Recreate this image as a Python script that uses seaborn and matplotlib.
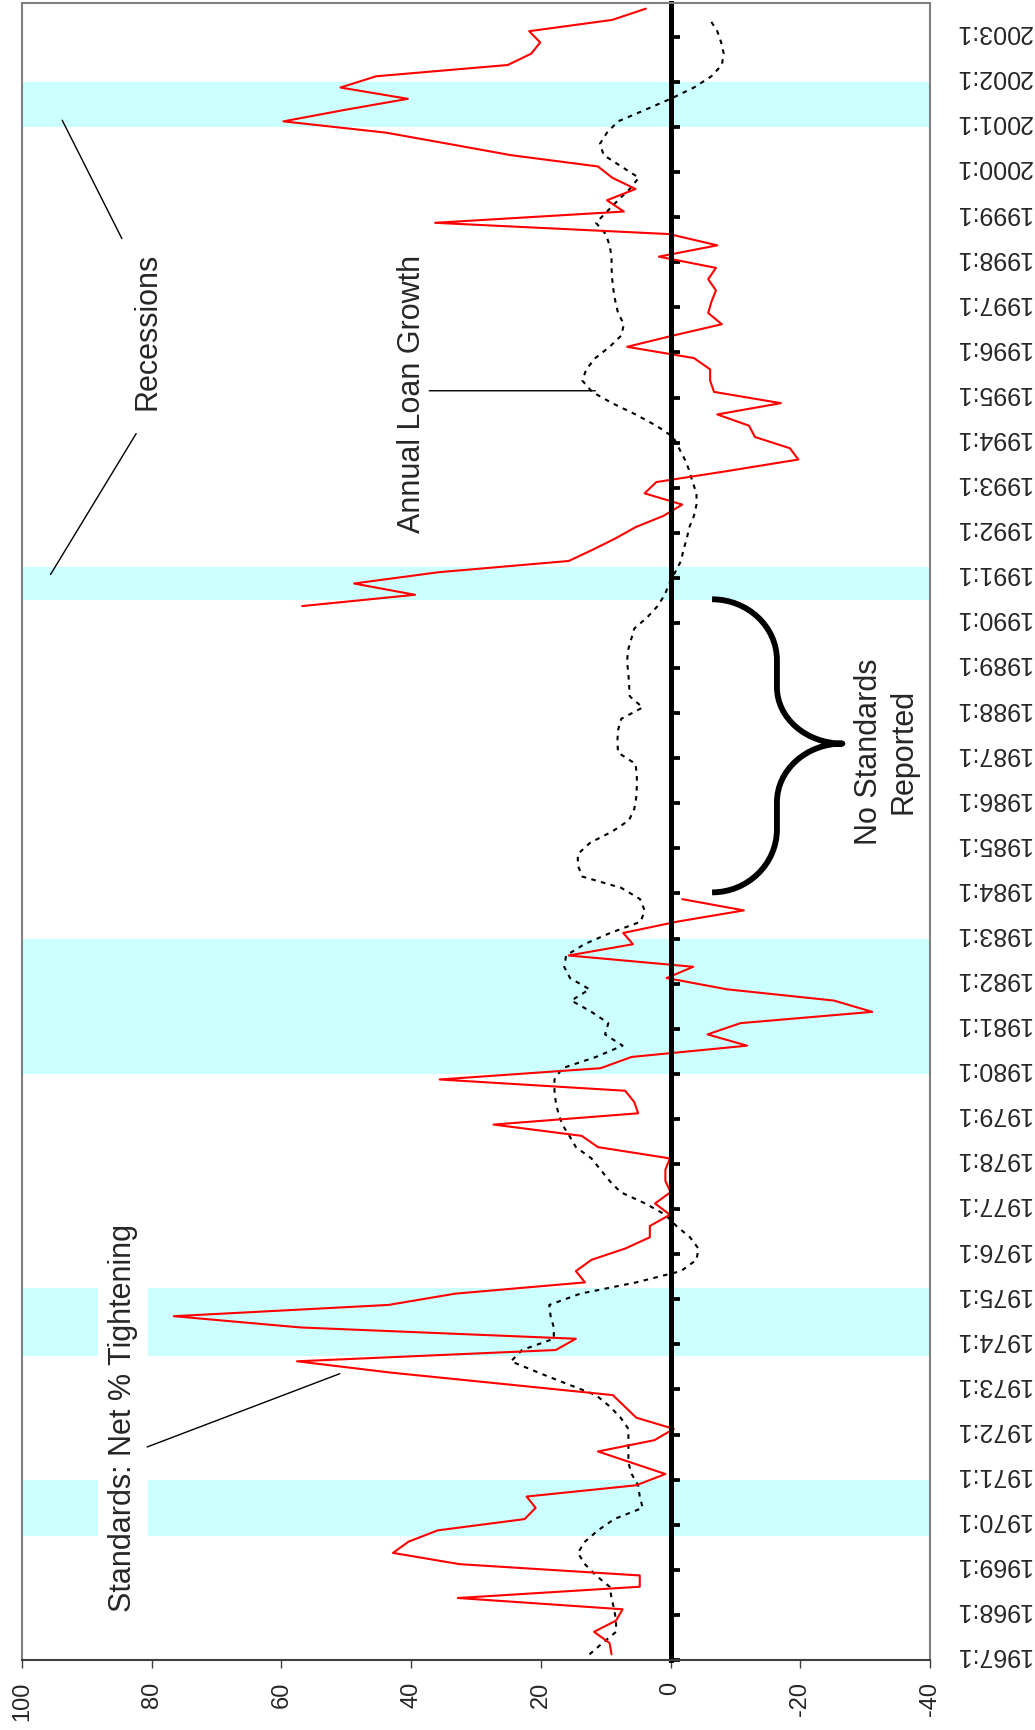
import numpy as np
import pandas as pd
import matplotlib
matplotlib.use('Agg')
import matplotlib.pyplot as plt
import seaborn as sns
from matplotlib.ticker import FixedLocator, FixedFormatter, NullFormatter
from matplotlib.path import Path
from matplotlib.patches import PathPatch

# ── Data (quarterly, 1967:1 = category 0) ─────
years = list(range(1967, 2004))
year_labels = [f"{y}:1" for y in years]

# Standards: net % tightening, 1967:1-1983:4
standards_a = [9.1, 9.4, 11.8, 8.4, 7.4, 32.8, 4.75, 4.75, 32.5, 42.8,
               40.4, 35.9, 22.5, 20.8, 22.2, 5.3, 0.8, 6.0, 11.2, 2.5,
               -0.5, 5.3, 7.1, 8.9, 26.0, 43.2, 57.6, 17.7, 14.6, 57.0,
               76.6, 43.5, 33.2, 13.2, 14.6, 12.2, 7.0, 3.2, 3.2, 0.1,
               2.4, 0.0, 0.8, 0.8, 0.1, 11.2, 13.7, 27.3, 5.0, 5.6,
               7.0, 35.6, 10.8, 6.0, -11.8, -5.7, -10.8, -31.1, -25.2, -8.7,
               0.6, -3.5, 15.7, 5.8, 7.3, -1.0, -11.3, -1.8]
standards_a_start = 0
# Standards: net % tightening, 1990:2-2003:3
standards_b = [56.8, 39.4, 48.8, 35.8, 15.7, 12.0, 8.5,
               5.4, 1.1, -1.8, 4.0, 2.2, -9.0, -19.7, -18.4, -13.0, -12.1,
               -7.2, -17.0, -6.7, -6.1, -6.1, -3.6, 6.7, -0.4, -7.9, -5.8,
               -6.3, -7.0, -5.8, -7.0, 1.8, -7.2, 0.2, 36.3, 7.2, 9.8,
               5.4, 9.0, 11.2, 24.6, 34.2, 43.9, 59.7, 50.4, 40.5, 50.9,
               45.4, 25.1, 21.5, 20.1, 21.8, 9.0, 3.8]
standards_b_start = 93

# Annual loan growth, 1967:1-2003:2
loan_growth = [12.5, 10.5, 8.4, 8.4, 8.7, 9.1, 9.4, 11.5, 13.2, 14.3,
               13.2, 11.2, 8.7, 4.3, 4.75, 5.0, 6.0, 6.5, 6.5, 6.5,
               6.5, 7.7, 9.4, 11.5, 16.0, 20.4, 24.6, 22.9, 18.0, 18.0,
               18.5, 18.7, 13.9, 5.3, -1.6, -4.0, -4.3, -3.0, -0.9, 0.8,
               3.9, 7.7, 9.4, 10.8, 12.2, 14.6, 15.6, 16.7, 17.3, 17.7,
               17.9, 17.9, 16.7, 11.5, 7.4, 10.1, 9.6, 12.2, 15.3, 12.5,
               15.5, 16.4, 16.1, 13.3, 9.3, 4.6, 4.0, 4.7, 7.6, 13.6,
               14.3, 14.3, 12.4, 9.0, 6.4, 5.6, 5.3, 5.2, 5.2, 5.4,
               8.1, 8.2, 8.1, 7.6, 4.3, 6.3, 6.4, 6.5, 6.7, 6.6,
               6.1, 5.6, 3.6, 2.0, 0.9, 0.2, -0.7, -1.6, -2.0, -2.5,
               -2.9, -3.6, -4.0, -4.0, -3.4, -2.9, -2.2, -1.3, -0.4, 2.2,
               5.4, 9.0, 12.1, 13.6, 13.0, 11.6, 9.4, 7.6, 7.2, 8.1,
               8.5, 8.8, 9.0, 9.1, 9.1, 9.4, 10.0, 11.5, 9.8, 8.1,
               6.3, 4.9, 7.6, 10.3, 10.9, 9.8, 8.1, 4.0, 0.0, -3.6,
               -6.3, -7.9, -8.2, -7.8, -7.2, -6.1]

# Recessions (category start / end)
rec_start = [11, 27, 52, 94, 136]
rec_end = [16, 33, 64, 97, 140]

value_ticks = [100, 80, 60, 40, 20, 0, -20, -40]
value_tick_labels = ['100', '80', '60', '40', '20', '0', '-20', '-40']
n_categories = 147

# ── Frames (points sit in the middle of each quarter) ──
red_df = pd.DataFrame({
    'pos': np.concatenate([np.arange(len(standards_a)) + standards_a_start,
                           np.arange(len(standards_b)) + standards_b_start]) + 0.5,
    'value': standards_a + standards_b,
    'segment': [0] * len(standards_a) + [1] * len(standards_b),
})
loan_df = pd.DataFrame({
    'pos': np.arange(len(loan_growth)) + 0.5,
    'value': loan_growth,
})

sns.set_style('white')
plt.rcParams['font.family'] = ['Liberation Sans', 'DejaVu Sans']
plt.rcParams['axes.unicode_minus'] = False

fig = plt.figure(figsize=(10.35, 17.31), dpi=100)
ax = fig.add_axes([22 / 1035, 70 / 1731, 908 / 1035, 1657 / 1731])

# recession bands
for s, e in zip(rec_start, rec_end):
    ax.axhspan(s, e, color='#CCFFFF', lw=0, zorder=0)

sns.lineplot(data=loan_df, x='value', y='pos', orient='y', sort=True,
             color='black', lw=1.5, linestyle=(0, (2.2, 2.6)),
             legend=False, ax=ax)
sns.lineplot(data=red_df, x='value', y='pos', units='segment',
             estimator=None, orient='y', sort=True,
             color='red', lw=1.5, legend=False, ax=ax)

ax.set_xlim(100, -40)
ax.set_ylim(0, n_categories)
ax.set_xlabel('')
ax.set_ylabel('')
ax.grid(False)

# value axis (bottom)
ax.set_xticks(value_ticks)
ax.set_xticklabels(value_tick_labels, rotation=90, fontsize=17)
ax.tick_params(axis='x', direction='out', length=6, width=1,
               color='#404040', pad=9, bottom=True)

# category axis drawn at zero
ax.spines['left'].set_position(('data', 0))
ax.spines['left'].set_color('black')
ax.spines['left'].set_linewidth(3.6)
ax.yaxis.set_major_locator(FixedLocator(list(range(0, n_categories + 1, 4))))
ax.yaxis.set_major_formatter(NullFormatter())
ax.yaxis.set_minor_locator(FixedLocator([4 * i + 0.5 for i in range(len(years))]))
ax.yaxis.set_minor_formatter(FixedFormatter(year_labels))
ax.tick_params(axis='y', which='major', direction='in', length=6.2, width=2.7,
               color='black', left=True, right=False,
               labelleft=False, labelright=False)
ax.tick_params(axis='y', which='minor', left=False, right=False,
               labelleft=False, labelright=True, labelsize=18,
               labelrotation=180, pad=16)
for lbl in ax.get_yticklabels(minor=True):
    lbl.set_va('center')

for side in ['top', 'right']:
    ax.spines[side].set_color('#808080')
    ax.spines[side].set_linewidth(1.5)
ax.spines['bottom'].set_color('#404040')
ax.spines['bottom'].set_linewidth(1.5)
ax.axvline(100, color='#808080', lw=1.5, clip_on=False, zorder=2.5)

# ── Labels and pointer lines ─────────────────
line_kw = dict(arrowstyle='-', color='black', lw=1, shrinkA=0, shrinkB=0)
ax.text(84.4, 21.6, 'Standards: Net % Tightening', rotation=90,
        ha='center', va='center', fontsize=22,
        bbox=dict(facecolor='white', edgecolor='none', pad=7))
ax.annotate('', xy=(51.0, 25.4), xytext=(80.7, 18.9), arrowprops=line_kw)

ax.text(80.6, 118.0, 'Recessions', rotation=90, ha='center', va='center',
        fontsize=22)
ax.annotate('', xy=(93.8, 136.6), xytext=(84.6, 126.1), arrowprops=line_kw)
ax.annotate('', xy=(95.6, 96.3), xytext=(82.4, 108.8), arrowprops=line_kw)

ax.text(39.8, 112.4, 'Annual Loan Growth', rotation=90, ha='center',
        va='center', fontsize=22)
ax.annotate('', xy=(11.6, 112.6), xytext=(37.2, 112.6), arrowprops=line_kw)

ax.text(-33.2, 80.7, 'No Standards\nReported', rotation=90, ha='center',
        va='center', multialignment='center', fontsize=22, clip_on=False,
        bbox=dict(facecolor='white', edgecolor='none', pad=3), zorder=4)

# curly brace over the gap in the standards series
x0, xm, xt = -6.4, -16.4, -26.5
p_top, p_mid, p_bot = 94.1, 81.3, 68.1
k = 0.55


def brace_half(p_end, r1, r2, sign):
    # from the end point to the tip, sign=-1 going down, +1 going up
    pv1 = p_end + sign * r1
    pv2 = p_mid - sign * r2
    seg = [(x0 + k * (xm - x0), p_end), (xm, pv1 - sign * k * r1), (xm, pv1),
           (xm, pv2),
           (xm, pv2 + sign * k * r2), (xt + k * (xm - xt), p_mid), (xt, p_mid)]
    return pv1, pv2, seg


_, _, upper = brace_half(p_top, 5.4, 5.0, -1)
_, _, lower = brace_half(p_bot, 5.6, 5.2, 1)
# walk the lower half backwards from the tip to the bottom end
lower_rev = [lower[5], lower[4], lower[3], lower[2], lower[1], lower[0], (x0, p_bot)]
verts = [(x0, p_top)] + upper + lower_rev
codes = ([Path.MOVETO] + [Path.CURVE4] * 3 + [Path.LINETO] + [Path.CURVE4] * 3
         + [Path.CURVE4] * 3 + [Path.LINETO] + [Path.CURVE4] * 3)
ax.add_patch(PathPatch(Path(verts, codes), facecolor='none',
                       edgecolor='black', lw=4.2, capstyle='butt',
                       joinstyle='round', zorder=4))

fig.savefig('out.png', dpi=100)
